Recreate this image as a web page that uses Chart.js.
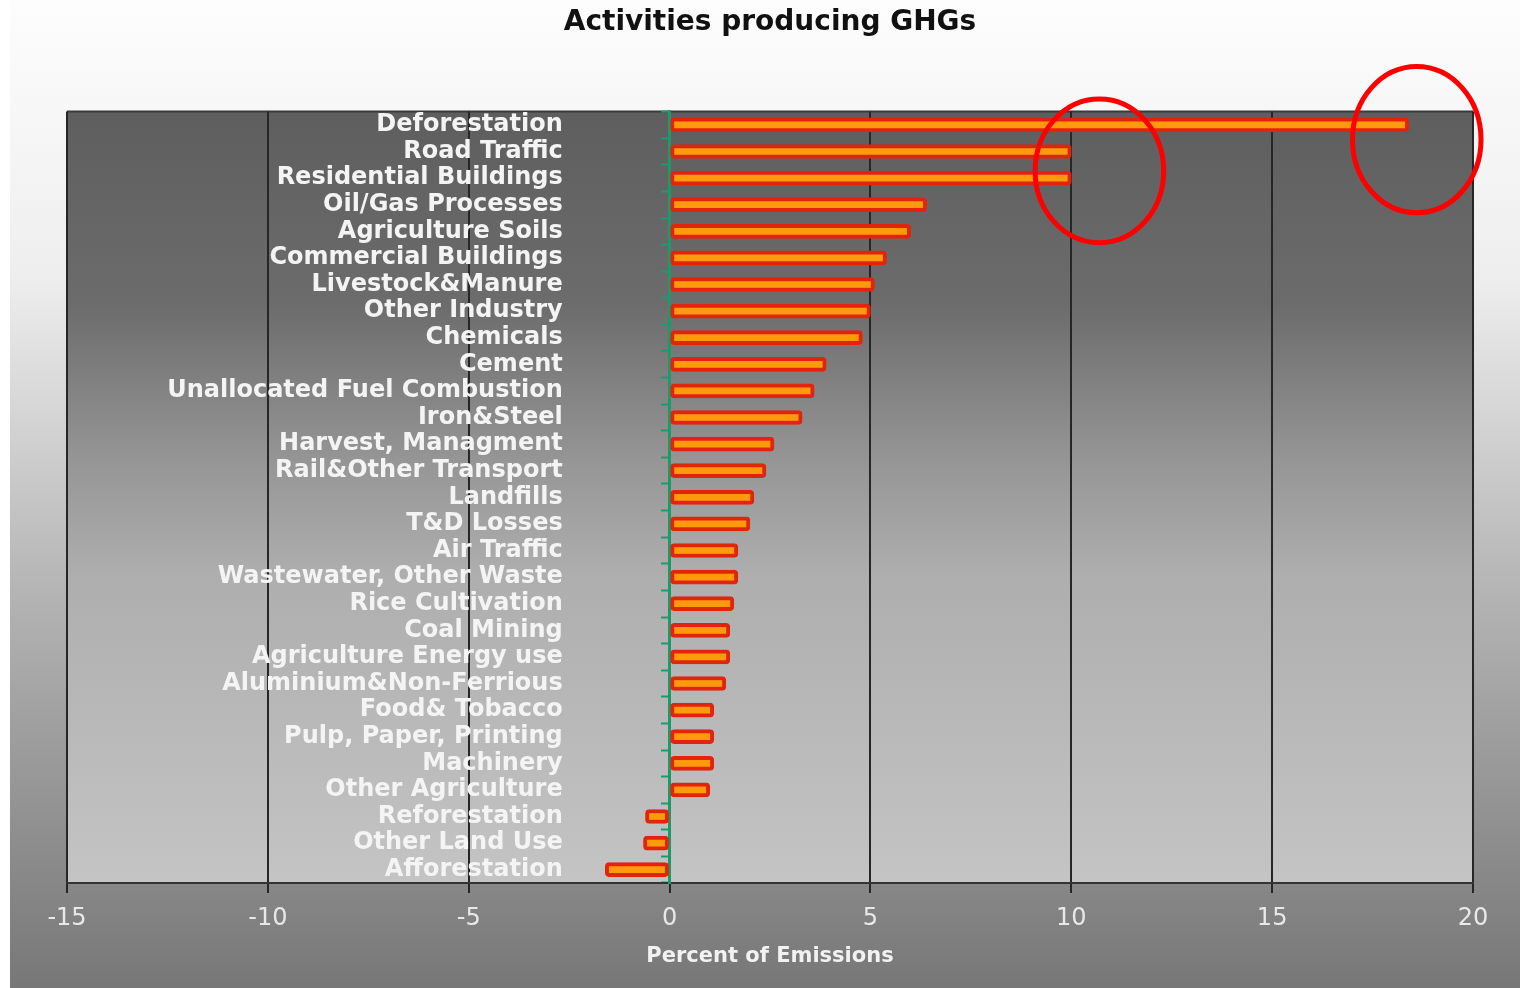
<!DOCTYPE html>
<html>
<head>
<meta charset="utf-8">
<title>Activities producing GHGs</title>
<script src="https://cdn.jsdelivr.net/npm/chart.js@4/dist/chart.umd.min.js"></script>
<style>
  html, body { margin: 0; padding: 0; background: #ffffff; }
  #wrap { width: 1532px; height: 988px; }
</style>
</head>
<body>
<div id="wrap"><canvas id="ghgChart" width="1532" height="988"></canvas></div>
<script>
// activity sectors, top to bottom
const activities = [
    'Deforestation', 'Road Traffic', 'Residential Buildings', 'Oil/Gas Processes',
    'Agriculture Soils', 'Commercial Buildings', 'Livestock&Manure', 'Other Industry',
    'Chemicals', 'Cement', 'Unallocated Fuel Combustion', 'Iron&Steel',
    'Harvest, Managment', 'Rail&Other Transport', 'Landfills', 'T&D Losses',
    'Air Traffic', 'Wastewater, Other Waste', 'Rice Cultivation', 'Coal Mining',
    'Agriculture Energy use', 'Aluminium&Non-Ferrious', 'Food& Tobacco',
    'Pulp, Paper, Printing', 'Machinery', 'Other Agriculture', 'Reforestation',
    'Other Land Use', 'Afforestation'
];

// percent of emissions per activity
const emissionShares = [
    18.4, 10.0, 10.0, 6.4,
    6.0, 5.4, 5.1, 5.0,
    4.8, 3.9, 3.6, 3.3,
    2.6, 2.4, 2.1, 2.0,
    1.7, 1.7, 1.6, 1.5,
    1.5, 1.4, 1.1,
    1.1, 1.1, 1.0, -0.6,
    -0.65, -1.6
];

const xTickValues = [-15, -10, -5, 0, 5, 10, 15, 20];

// names sit inside the plot, right-aligned at this x value
const nameEdge = -2.66;

// red rings drawn over the chart (x in percent, row as category index, radii in the same units)
const rings = [
    { x: 10.7, row: 1.73, rx: 1.6, ry: 2.7 },
    { x: 18.6, row: 0.55, rx: 1.6, ry: 2.75 }
];

const GRID_DARK = '#262626';
const ZERO_GREEN = '#1c9a6c';

const backdrop = {
    id: 'backdrop',
    beforeDraw(chart) {
        const {ctx, chartArea: a, width, height} = chart;
        ctx.save();
        // outer frame
        const outer = ctx.createLinearGradient(0, 0, 0, height);
        outer.addColorStop(0, '#fdfdfd');
        outer.addColorStop(0.28, '#eeeeee');
        outer.addColorStop(0.6, '#b4b4b4');
        outer.addColorStop(1, '#777777');
        ctx.fillStyle = '#ffffff';
        ctx.fillRect(0, 0, width, height);
        ctx.fillStyle = outer;
        ctx.fillRect(10, 0, width - 22, height);
        // plot panel
        const inner = ctx.createLinearGradient(0, a.top, 0, a.bottom);
        inner.addColorStop(0, '#5e5e5e');
        inner.addColorStop(0.25, '#6c6c6c');
        inner.addColorStop(0.45, '#959595');
        inner.addColorStop(0.6, '#aeaeae');
        inner.addColorStop(1, '#c4c4c4');
        ctx.fillStyle = inner;
        ctx.fillRect(a.left, a.top, a.right - a.left, a.bottom - a.top);
        ctx.strokeStyle = '#3a3a3a';
        ctx.lineWidth = 2;
        ctx.beginPath();
        ctx.moveTo(a.left, a.top);
        ctx.lineTo(a.right, a.top);
        ctx.stroke();
        ctx.restore();
    },
    afterDraw(chart) {
        const {ctx, scales: {x, y}} = chart;
        ctx.save();
        ctx.strokeStyle = '#ff0000';
        ctx.lineWidth = 5;
        rings.forEach(r => {
            const cx = x.getPixelForValue(r.x);
            const cy = y.getPixelForValue(r.row);
            const rx = x.getPixelForValue(r.x + r.rx) - cx;
            const ry = y.getPixelForValue(r.row + r.ry) - cy;
            ctx.beginPath();
            ctx.ellipse(cx, cy, rx, ry, 0, 0, Math.PI * 2);
            ctx.stroke();
        });
        ctx.restore();
    }
};

const ctx = document.getElementById('ghgChart').getContext('2d');
const ghgChart = new Chart(ctx, {
    type: 'bar',
    data: {
        labels: activities,
        datasets: [{
            data: emissionShares,
            yAxisID: 'y',
            backgroundColor: '#ff9a0c',
            borderColor: '#e3240c',
            borderWidth: 4,
            borderSkipped: false,
            borderRadius: 4,
            barThickness: 14
        }]
    },
    options: {
        indexAxis: 'y',
        responsive: false,
        devicePixelRatio: 1,
        animation: false,
        layout: { padding: { left: 67, right: 59, top: 0, bottom: 15 } },
        plugins: {
            legend: { display: false },
            tooltip: { enabled: false },
            title: {
                display: true,
                text: 'Activities producing GHGs',
                color: '#111111',
                font: { family: 'DejaVu Sans', size: 28, weight: 'bold' },
                padding: { top: 6, bottom: 72 }
            }
        },
        scales: {
            x: {
                type: 'linear',
                min: xTickValues[0],
                max: xTickValues[xTickValues.length - 1],
                afterBuildTicks: scale => {
                    scale.ticks = xTickValues.map(v => ({ value: v }));
                },
                grid: {
                    color: c => (c.tick && c.tick.value === 0) ? ZERO_GREEN : GRID_DARK,
                    lineWidth: 2,
                    drawTicks: true,
                    tickLength: 10,
                    tickColor: GRID_DARK
                },
                border: { color: '#333333', width: 2 },
                ticks: {
                    color: '#e8e8e8',
                    padding: 11,
                    font: { family: 'DejaVu Sans', size: 24 }
                },
                title: {
                    display: true,
                    text: 'Percent of Emissions',
                    color: '#f2f2f2',
                    font: { family: 'DejaVu Sans', size: 21, weight: 'bold' },
                    padding: { top: 0, bottom: 4 }
                }
            },
            // zero axis: green line with small marks between rows
            y: {
                position: { x: 0 },
                grid: {
                    drawOnChartArea: false,
                    drawTicks: true,
                    tickLength: 7,
                    tickColor: ZERO_GREEN,
                    tickWidth: 2
                },
                border: { color: ZERO_GREEN, width: 3 },
                ticks: { display: false }
            },
            // activity names
            names: {
                type: 'category',
                axis: 'y',
                offset: true,
                position: { x: nameEdge },
                grid: { display: false },
                border: { display: false },
                ticks: {
                    autoSkip: false,
                    color: '#f4f4f4',
                    padding: 0,
                    z: -1,
                    font: { family: 'DejaVu Sans', size: 24, weight: 'bold' }
                }
            }
        }
    },
    plugins: [backdrop]
});
</script>
</body>
</html>
